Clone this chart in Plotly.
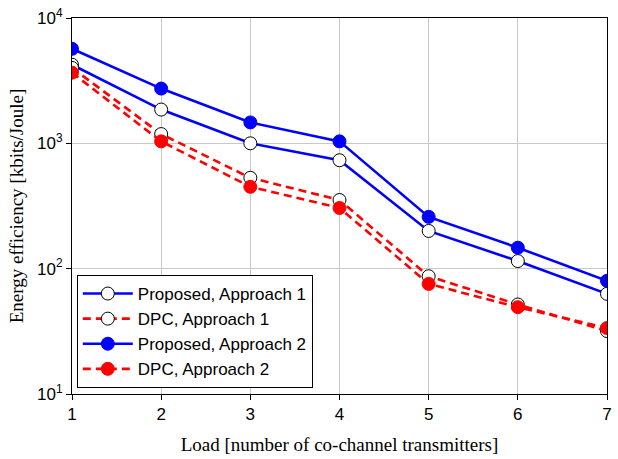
import plotly.graph_objects as go

# Load (number of co-channel transmitters)
load = [1, 2, 3, 4, 5, 6, 7]

# Energy efficiency in kbits/Joule
proposed_a1 = [4240, 1860, 1000, 733, 200, 115, 63]
dpc_a1 = [4000, 1185, 531, 353, 87, 51.8, 31.8]
proposed_a2 = [5680, 2735, 1468, 1037, 259, 147, 80]
dpc_a2 = [3660, 1037, 450, 305, 75.6, 49.3, 33.6]

y_tickvals = [10, 100, 1000, 10000]
y_ticktext = ["10<sup>1</sup>", "10<sup>2</sup>", "10<sup>3</sup>", "10<sup>4</sup>"]

series = [
    ("Proposed, Approach 1", proposed_a1, "blue", "solid", "white"),
    ("DPC, Approach 1", dpc_a1, "red", "8px,5px", "white"),
    ("Proposed, Approach 2", proposed_a2, "blue", "solid", "blue"),
    ("DPC, Approach 2", dpc_a2, "red", "8px,5px", "red"),
]

fig = go.Figure()
for name, vals, col, dash, fill in series:
    fig.add_trace(go.Scatter(
        x=load, y=vals, name=name, mode="lines+markers",
        line=dict(color=col, width=2.6, dash=dash),
        marker=dict(size=13, color=fill,
                    line=dict(color="black" if fill == "white" else fill, width=1)),
    ))

axis_common = dict(
    showline=True, linecolor="black", linewidth=1, mirror=True,
    showgrid=True, gridcolor="#c8c8c8", gridwidth=1,
    ticks="outside", ticklen=5, tickcolor="black",
    tickfont=dict(family="Liberation Sans, Arial", size=17, color="black"),
    zeroline=False,
)
title_font = dict(family="Liberation Serif, Times New Roman", size=19, color="black")

fig.update_layout(
    width=618, height=459,
    margin=dict(l=72, r=6, t=16, b=65),
    paper_bgcolor="white", plot_bgcolor="white",
    xaxis=dict(range=[1, 7], tickvals=load,
               title=dict(text="Load [number of co-channel transmitters]",
                          font=title_font, standoff=14),
               **axis_common),
    yaxis=dict(type="log", range=[1, 4], tickvals=y_tickvals, ticktext=y_ticktext,
               title=dict(text="Energy efficiency [kbits/Joule]",
                          font=title_font, standoff=8),
               **axis_common),
    legend=dict(x=0.009, y=0.016, xanchor="left", yanchor="bottom",
                bgcolor="white", bordercolor="black", borderwidth=1,
                font=dict(family="Liberation Sans, Arial", size=17, color="black"),
                tracegroupgap=0, itemwidth=50),
    showlegend=True,
)

fig.write_html("out.html")
